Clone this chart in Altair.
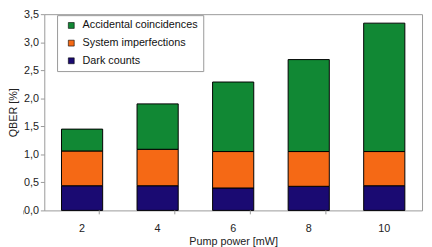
import altair as alt
import pandas as pd

power = ["2", "4", "6", "8", "10"]
dark_counts = [0.44, 0.44, 0.40, 0.43, 0.44]
system_imperf = [0.62, 0.65, 0.65, 0.62, 0.61]
accidental = [0.39, 0.81, 1.24, 1.64, 2.29]

series = ["Accidental coincidences", "System imperfections", "Dark counts"]
colors = ["#118834", "#F56915", "#1A0A72"]
stack_rank = {"Dark counts": 0, "System imperfections": 1, "Accidental coincidences": 2}

rows = []
for i, p in enumerate(power):
    for name, vals in (("Dark counts", dark_counts),
                       ("System imperfections", system_imperf),
                       ("Accidental coincidences", accidental)):
        rows.append({"power": p, "series": name, "value": vals[i], "rank": stack_rank[name]})
df = pd.DataFrame(rows)
cats = pd.DataFrame({"power": power})

W, H = 385, 200
FONT = "Liberation Sans"

x_enc = alt.X("power:N", sort=power,
              scale=alt.Scale(paddingInner=0.455, paddingOuter=0.2275),
              axis=alt.Axis(title="Pump power [mW]", labelAngle=0, ticks=False, domain=False,
                            labelPadding=12, titlePadding=3, labelFont=FONT, labelFontSize=11,
                            titleFont=FONT, titleFontSize=11, titleFontWeight="normal",
                            labelColor="#222222", titleColor="#222222"))

bars = alt.Chart(df).mark_bar(stroke="black", strokeWidth=1).encode(
    x=x_enc,
    y=alt.Y("value:Q", stack="zero",
            scale=alt.Scale(domain=[0, 3.5], nice=False),
            axis=alt.Axis(title="QBER [%]", values=[0, 0.5, 1, 1.5, 2, 2.5, 3, 3.5],
                          labelExpr="replace(format(datum.value, '.1f'), '.', ',')",
                          grid=False, domain=False, tickColor="#999999", tickSize=4,
                          labelPadding=2, labelFont=FONT, labelFontSize=11,
                          labelColor="#222222", titleFont=FONT, titleFontSize=11,
                          titleFontWeight="normal", titleColor="#222222",
                          titleX=-26, titleY=H / 2, titleAngle=-90, titleBaseline="bottom")),
    color=alt.Color("series:N", scale=alt.Scale(domain=series, range=colors),
                    legend=alt.Legend(title=None, orient="none", legendX=13, legendY=1,
                                      fillColor="white", strokeColor="#999999",
                                      padding=5, symbolType="square", symbolSize=36,
                                      symbolStrokeColor="black", symbolStrokeWidth=0.6,
                                      symbolOffset=4, labelOffset=6, rowPadding=6,
                                      labelFont=FONT, labelFontSize=11, labelColor="#111111")),
    order=alt.Order("rank:Q", sort="ascending"),
)

ticks = alt.Chart(cats).mark_rule(color="#999999", strokeWidth=1).encode(
    x=alt.X("power:N", sort=power),
    xOffset=alt.value(-38.5),
    y=alt.value(H),
    y2=alt.value(H + 4),
)

chart = alt.layer(bars, ticks).properties(
    width=W, height=H,
    autosize=alt.AutoSizeParams(type="none"),
    padding={"left": 37, "top": 4, "right": 2, "bottom": 35},
).configure_view(stroke="#999999", strokeWidth=1)

chart.save("out.html", embed_options={"renderer": "svg", "actions": False})
